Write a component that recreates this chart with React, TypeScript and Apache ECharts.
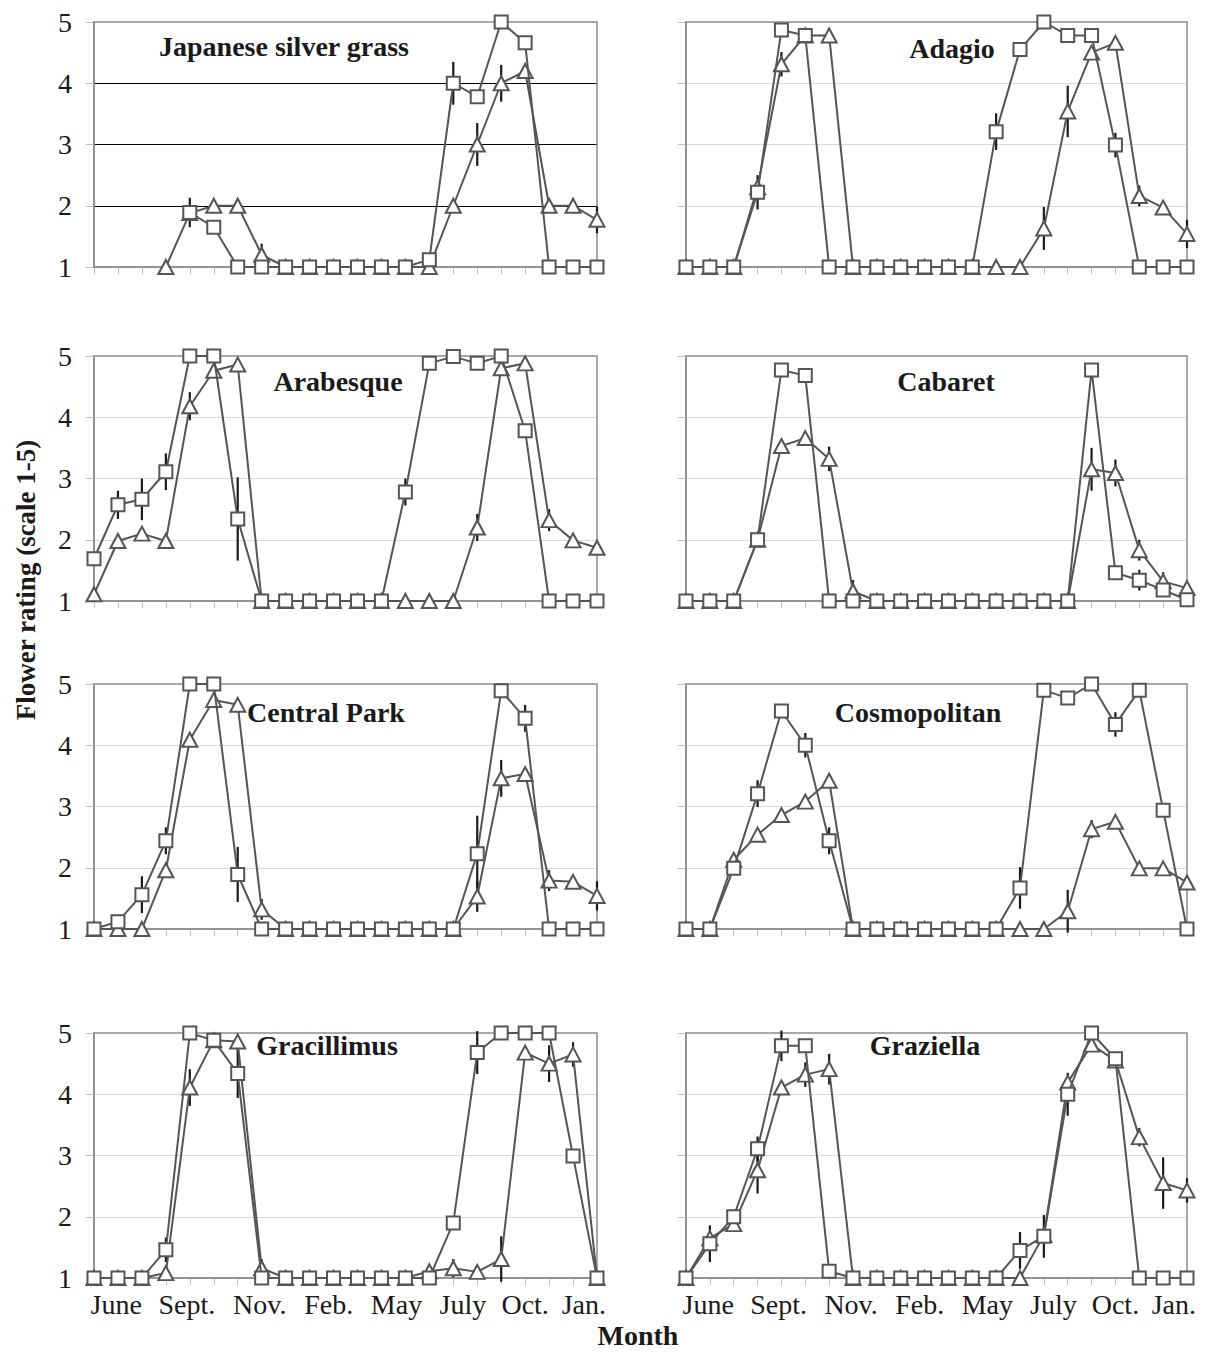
import React, { useEffect, useRef } from 'react';
import * as echarts from 'echarts';

// ---------- data ----------
const monthLabels = ['June', 'Sept.', 'Nov.', 'Feb.', 'May', 'July', 'Oct.', 'Jan.'];
const monthLabelPos = [0.93, 3.88, 6.92, 9.8, 12.63, 15.4, 18.0, 20.45];
const yTickMin = 1;
const yTickMax = 5;

const jsgSquare = [null, null, null, null, 1.89, 1.65, 1, 1, 1, 1, 1, 1, 1, 1, 1.12, 4.0, 3.78, 5.0, 4.66, 1, 1, 1];
const jsgTriangle = [null, null, null, 1, 1.88, 2.0, 2.0, 1.2, 1, 1, 1, 1, 1, 1, 1, 2.0, 3.0, 4.0, 4.2, 2.0, 2.0, 1.77];
const jsgSquareErr = [[4, 0.24], [15, 0.35]];
const jsgTriangleErr = [[7, 0.18], [16, 0.35], [17, 0.3], [21, 0.22]];

const adagioSquare = [1, 1, 1, 2.22, 4.87, 4.78, 1, 1, 1, 1, 1, 1, 1, 3.21, 4.55, 5.0, 4.78, 4.78, 2.99, 1, 1, 1];
const adagioTriangle = [1, 1, 1, 2.3, 4.31, 4.78, 4.78, 1, 1, 1, 1, 1, 1, 1, 1, 1.63, 3.54, 4.5, 4.66, 2.16, 1.97, 1.54];
const adagioSquareErr = [[3, 0.28], [13, 0.3], [18, 0.2]];
const adagioTriangleErr = [[4, 0.2], [15, 0.35], [16, 0.42], [19, 0.17], [21, 0.23]];

const arabSquare = [1.69, 2.57, 2.66, 3.11, 5, 5, 2.34, 1, 1, 1, 1, 1, 1, 2.78, 4.88, 4.99, 4.88, 5, 3.78, 1, 1, 1];
const arabTriangle = [1.11, 1.98, 2.1, 1.98, 4.18, 4.76, 4.86, 1, 1, 1, 1, 1, 1, 1, 1, 1, 2.2, 4.8, 4.88, 2.32, 1.99, 1.87];
const arabSquareErr = [[1, 0.23], [2, 0.34], [3, 0.3], [6, 0.68], [13, 0.22]];
const arabTriangleErr = [[4, 0.23], [16, 0.22], [19, 0.18]];

const cabSquare = [1, 1, 1, 2.0, 4.77, 4.68, 1, 1, 1, 1, 1, 1, 1, 1, 1, 1, 1, 4.77, 1.46, 1.34, 1.18, 1.02];
const cabTriangle = [1, 1, 1, 2.0, 3.53, 3.66, 3.32, 1.16, 1, 1, 1, 1, 1, 1, 1, 1, 1, 3.15, 3.09, 1.83, 1.32, 1.21];
const cabSquareErr = [[18, 0.08], [19, 0.17]];
const cabTriangleErr = [[6, 0.2], [7, 0.18], [17, 0.35], [18, 0.22], [19, 0.17], [20, 0.15]];

const cpSquare = [1, 1.12, 1.56, 2.44, 5, 5, 1.89, 1, 1, 1, 1, 1, 1, 1, 1, 1, 2.23, 4.89, 4.44, 1, 1, 1];
const cpTriangle = [1, 1, 1, 1.96, 4.09, 4.74, 4.66, 1.32, 1, 1, 1, 1, 1, 1, 1, 1, 1.53, 3.46, 3.53, 1.79, 1.77, 1.54];
const cpSquareErr = [[1, 0.08], [2, 0.3], [3, 0.22], [6, 0.45], [16, 0.62], [18, 0.22]];
const cpTriangleErr = [[7, 0.17], [16, 0.25], [17, 0.3], [19, 0.17], [21, 0.24]];

const cosSquare = [1, 1, 1.99, 3.21, 4.56, 4.0, 2.44, 1, 1, 1, 1, 1, 1, 1, 1.67, 4.9, 4.77, 5.0, 4.34, 4.9, 2.94, 1];
const cosTriangle = [1, 1, 2.13, 2.54, 2.86, 3.08, 3.42, 1, 1, 1, 1, 1, 1, 1, 1, 1, 1.29, 2.63, 2.75, 1.99, 1.99, 1.76];
const cosSquareErr = [[3, 0.22], [5, 0.2], [6, 0.22], [14, 0.34], [18, 0.2]];
const cosTriangleErr = [[16, 0.35], [17, 0.15]];

const graSquare = [1, 1, 1, 1.46, 5, 4.88, 4.34, 1, 1, 1, 1, 1, 1, 1, 1, 1.9, 4.68, 5, 5, 5, 2.99, 1];
const graTriangle = [1, 1, 1, 1.08, 4.11, 4.88, 4.86, 1.16, 1, 1, 1, 1, 1, 1, 1.11, 1.16, 1.1, 1.31, 4.68, 4.5, 4.65, 1];
const graSquareErr = [[3, 0.2], [5, 0.05], [6, 0.4], [16, 0.35]];
const graTriangleErr = [[4, 0.3], [7, 0.15], [15, 0.15], [17, 0.37], [19, 0.3], [20, 0.2]];

const gzSquare = [1, 1.56, 2.0, 3.11, 4.79, 4.79, 1.11, 1, 1, 1, 1, 1, 1, 1, 1.45, 1.68, 4.0, 5.0, 4.58, 1, 1, 1];
const gzTriangle = [1, 1.65, 1.88, 2.76, 4.11, 4.32, 4.41, 1, 1, 1, 1, 1, 1, 1, 1, 1.7, 4.19, 4.81, 4.55, 3.3, 2.55, 2.43];
const gzSquareErr = [[1, 0.3], [3, 0.2], [4, 0.25], [14, 0.3], [15, 0.35], [16, 0.35]];
const gzTriangleErr = [[3, 0.38], [5, 0.2], [6, 0.25], [17, 0.1], [19, 0.15], [20, 0.42], [21, 0.2]];

const panelNames = ['Japanese silver grass', 'Adagio', 'Arabesque', 'Cabaret', 'Central Park', 'Cosmopolitan', 'Gracillimus', 'Graziella'];
const squareSeries = [jsgSquare, adagioSquare, arabSquare, cabSquare, cpSquare, cosSquare, graSquare, gzSquare];
const triangleSeries = [jsgTriangle, adagioTriangle, arabTriangle, cabTriangle, cpTriangle, cosTriangle, graTriangle, gzTriangle];
const squareErrors = [jsgSquareErr, adagioSquareErr, arabSquareErr, cabSquareErr, cpSquareErr, cosSquareErr, graSquareErr, gzSquareErr];
const triangleErrors = [jsgTriangleErr, adagioTriangleErr, arabTriangleErr, cabTriangleErr, cpTriangleErr, cosTriangleErr, graTriangleErr, gzTriangleErr];

// ---------- layout ----------
const colLeft = [94, 686];
const colWidth = [503, 501];
const rowTop = [22, 356, 684, 1033];
const rowHeight = 245;
const titlePos = [[284, 46], [952, 48], [338, 381], [946, 381], [326, 712], [918, 712], [327, 1045], [925, 1045]];

const FONT = 'Liberation Serif';
const LINE = '#555555';
const TEXT = '#1a1a1a';
const BORDER = '#8c8c8c';

function toPoints(arr: (number | null)[]) {
  const out: number[][] = [];
  arr.forEach((v, i) => {
    if (v !== null && v !== undefined) out.push([i, v]);
  });
  return out;
}

function toErr(vals: (number | null)[], list: number[][]) {
  return list.map(([i, e]) => [i, (vals[i] as number) - e, (vals[i] as number) + e]);
}

function buildOption() {
  const grid: any[] = [];
  const xAxis: any[] = [];
  const yAxis: any[] = [];
  const series: any[] = [];
  const graphic: any[] = [];

  panelNames.forEach((name, k) => {
    const row = Math.floor(k / 2);
    const col = k % 2;
    const isBottom = row === 3;
    grid.push({
      left: colLeft[col],
      top: rowTop[row],
      width: colWidth[col],
      height: rowHeight,
      show: true,
      borderColor: BORDER,
      borderWidth: 1.5,
      containLabel: false,
      z: 1,
    });
    xAxis.push({
      type: 'value',
      gridIndex: k,
      min: 0,
      max: 21,
      interval: 1,
      axisLine: { show: true, lineStyle: { color: BORDER, width: 1.5 } },
      axisTick: { show: true, length: 7, inside: false, lineStyle: { color: '#c0c0c0', width: 1 } },
      splitLine: { show: false },
      axisLabel: {
        show: isBottom,
        customValues: monthLabelPos,
        margin: 12,
        fontFamily: FONT,
        fontSize: 28,
        color: TEXT,
        formatter: (v: number) => {
          let best = 0;
          monthLabelPos.forEach((p, i) => {
            if (Math.abs(p - v) < Math.abs(monthLabelPos[best] - v)) best = i;
          });
          return monthLabels[best];
        },
      },
    });
    yAxis.push({
      type: 'value',
      gridIndex: k,
      min: yTickMin,
      max: yTickMax,
      interval: 1,
      axisLine: { show: true, lineStyle: { color: BORDER, width: 1.5 } },
      axisTick: { show: true, length: 8, lineStyle: { color: '#c0c0c0', width: 1 } },
      splitLine: {
        show: true,
        showMinLine: false,
        showMaxLine: false,
        lineStyle: { color: k === 0 ? '#000000' : '#d9d9d9', width: 1 },
      },
      axisLabel: {
        show: col === 0,
        margin: 22,
        fontFamily: FONT,
        fontSize: 28,
        color: TEXT,
      },
    });

    const sq = squareSeries[k];
    const tr = triangleSeries[k];
    series.push({
      type: 'custom',
      xAxisIndex: k,
      yAxisIndex: k,
      z: 2,
      silent: true,
      encode: { x: 0, y: [1, 2] },
      data: [...toErr(sq, squareErrors[k]), ...toErr(tr, triangleErrors[k])],
      renderItem: (params: any, api: any) => {
        const x = api.value(0);
        const a = api.coord([x, api.value(1)]);
        const b = api.coord([x, api.value(2)]);
        return {
          type: 'line',
          shape: { x1: a[0], y1: a[1], x2: b[0], y2: b[1] },
          style: { stroke: '#1a1a1a', lineWidth: 2.2 },
        };
      },
    });
    series.push({
      type: 'line',
      name: name + ' triangle',
      xAxisIndex: k,
      yAxisIndex: k,
      z: 3,
      clip: false,
      silent: true,
      data: toPoints(tr),
      symbol: 'triangle',
      symbolSize: [15, 14],
      showAllSymbol: true,
      lineStyle: { color: LINE, width: 2 },
      itemStyle: { color: '#ffffff', borderColor: LINE, borderWidth: 2 },
    });
    series.push({
      type: 'line',
      name: name + ' square',
      xAxisIndex: k,
      yAxisIndex: k,
      z: 4,
      clip: false,
      silent: true,
      data: toPoints(sq),
      symbol: 'rect',
      symbolSize: 13,
      showAllSymbol: true,
      lineStyle: { color: LINE, width: 2 },
      itemStyle: { color: '#ffffff', borderColor: LINE, borderWidth: 2 },
    });

    graphic.push({
      type: 'text',
      x: titlePos[k][0],
      y: titlePos[k][1],
      z: 10,
      style: {
        text: name,
        fontFamily: FONT,
        fontSize: 28,
        fontWeight: 'bold',
        fill: TEXT,
        align: 'center',
        verticalAlign: 'middle',
      },
    });
  });

  graphic.push({
    type: 'text',
    x: 26,
    y: 580,
    rotation: Math.PI / 2,
    style: {
      text: 'Flower rating (scale 1-5)',
      fontFamily: FONT,
      fontSize: 27,
      fontWeight: 'bold',
      fill: TEXT,
      align: 'center',
      verticalAlign: 'middle',
    },
  });
  graphic.push({
    type: 'text',
    x: 638,
    y: 1335,
    style: {
      text: 'Month',
      fontFamily: FONT,
      fontSize: 28,
      fontWeight: 'bold',
      fill: TEXT,
      align: 'center',
      verticalAlign: 'middle',
    },
  });

  return {
    animation: false,
    backgroundColor: '#ffffff',
    grid,
    xAxis,
    yAxis,
    series,
    graphic,
  };
}

export default function App() {
  const ref = useRef<HTMLDivElement>(null);
  useEffect(() => {
    if (!ref.current) return;
    const chart = echarts.init(ref.current, null, { renderer: 'svg' });
    chart.setOption(buildOption() as any);
    return () => chart.dispose();
  }, []);
  return (
    <div
      ref={ref}
      style={{ position: 'absolute', left: 0, top: 0, width: 1215, height: 1352, background: '#fff' }}
    />
  );
}
